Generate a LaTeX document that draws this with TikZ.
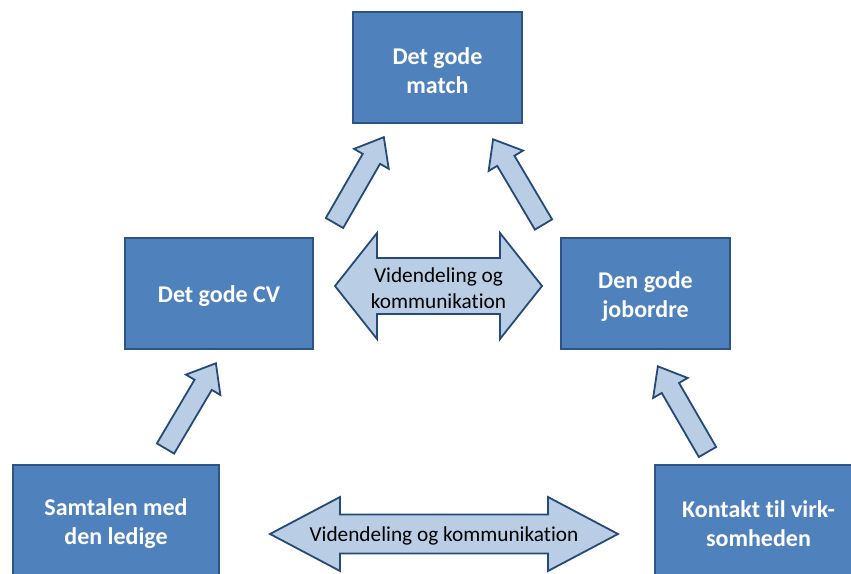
\documentclass[tikz,border=0pt]{standalone}
\usepackage{fontspec}
\setmainfont[Ligatures=NoCommon]{Carlito}
\definecolor{boxfill}{HTML}{4F81BD}
\definecolor{boxline}{HTML}{2E5486}
\definecolor{arrfill}{HTML}{B9CDE5}
\definecolor{arrline}{HTML}{254A78}
\begin{document}
\begin{tikzpicture}[x=1pt,y=1pt,
  bluebox/.style={draw=boxline, line width=2pt, fill=boxfill, inner sep=0pt},
  boxtext/.style={text=white, font=\fontsize{24}{29.3}\selectfont\bfseries, align=center, inner sep=0pt},
  blockarr/.style={draw=arrline, line width=1.8pt, fill=arrfill, line join=miter},
  arrlabel/.style={font=\fontsize{21.3}{26}\selectfont, align=center, inner sep=0pt, text=black}]
\useasboundingbox (0,0) rectangle (851,573);
\clip (0,0) rectangle (851,573);
% boxes
\node[bluebox, minimum width=169pt, minimum height=111pt] (match) at (437.5,505.5) {};
\node[boxtext] (matcht) at ([yshift=-3pt]match.center) {Det gode\\match};
\node[bluebox, minimum width=188pt, minimum height=111pt] (cv) at (219,279.5) {};
\node[boxtext] (cvt) at ([yshift=-3pt]cv.center) {Det gode CV};
\node[bluebox, minimum width=169pt, minimum height=111pt] (job) at (645.5,279.5) {};
\node[boxtext] (jobt) at ([yshift=-3pt]job.center) {Den gode\\jobordre};
\node[bluebox, minimum width=206pt, minimum height=110pt] (sam) at (116,53) {};
\node[boxtext] (samt) at ([yshift=-3.5pt]sam.center) {Samtalen med\\den ledige};
\node[bluebox, minimum width=207pt, minimum height=110pt] (kon) at (758.5,53) {};
\node[boxtext] (kont) at ([yshift=-3.5pt]kon.center) {Kontakt til virk-\\somheden};
% single block arrows
\begin{scope}[shift={(334.5,350)}, rotate=60.1]
  \draw[blockarr] (0,-10) -- (74,-10) -- (74,-20) -- (99,0) -- (74,20) -- (74,10) -- (0,10) -- cycle;
\end{scope}
\begin{scope}[shift={(543.5,348.5)}, rotate=120.6]
  \draw[blockarr] (0,-10) -- (74,-10) -- (74,-20) -- (99,0) -- (74,20) -- (74,10) -- (0,10) -- cycle;
\end{scope}
\begin{scope}[shift={(165.5,124.5)}, rotate=59.4]
  \draw[blockarr] (0,-10) -- (74,-10) -- (74,-20) -- (99,0) -- (74,20) -- (74,10) -- (0,10) -- cycle;
\end{scope}
\begin{scope}[shift={(707.5,121)}, rotate=120.1]
  \draw[blockarr] (0,-10) -- (74,-10) -- (74,-20) -- (99,0) -- (74,20) -- (74,10) -- (0,10) -- cycle;
\end{scope}
% double block arrows
\draw[blockarr] (335,287) -- (377,340) -- (377,315) -- (500,315) -- (500,340) -- (542,287)
  -- (500,234) -- (500,259) -- (377,259) -- (377,234) -- cycle;
\node[arrlabel] (mid) at (438.5,284.5) {Videndeling og\\kommunikation};
\draw[blockarr] (270,39) -- (340,76) -- (340,58.5) -- (548,58.5) -- (548,76) -- (618,39)
  -- (548,2) -- (548,19.5) -- (340,19.5) -- (340,2) -- cycle;
\node[arrlabel] (bot) at (444,37) {Videndeling og kommunikation};
\end{tikzpicture}
\end{document}
